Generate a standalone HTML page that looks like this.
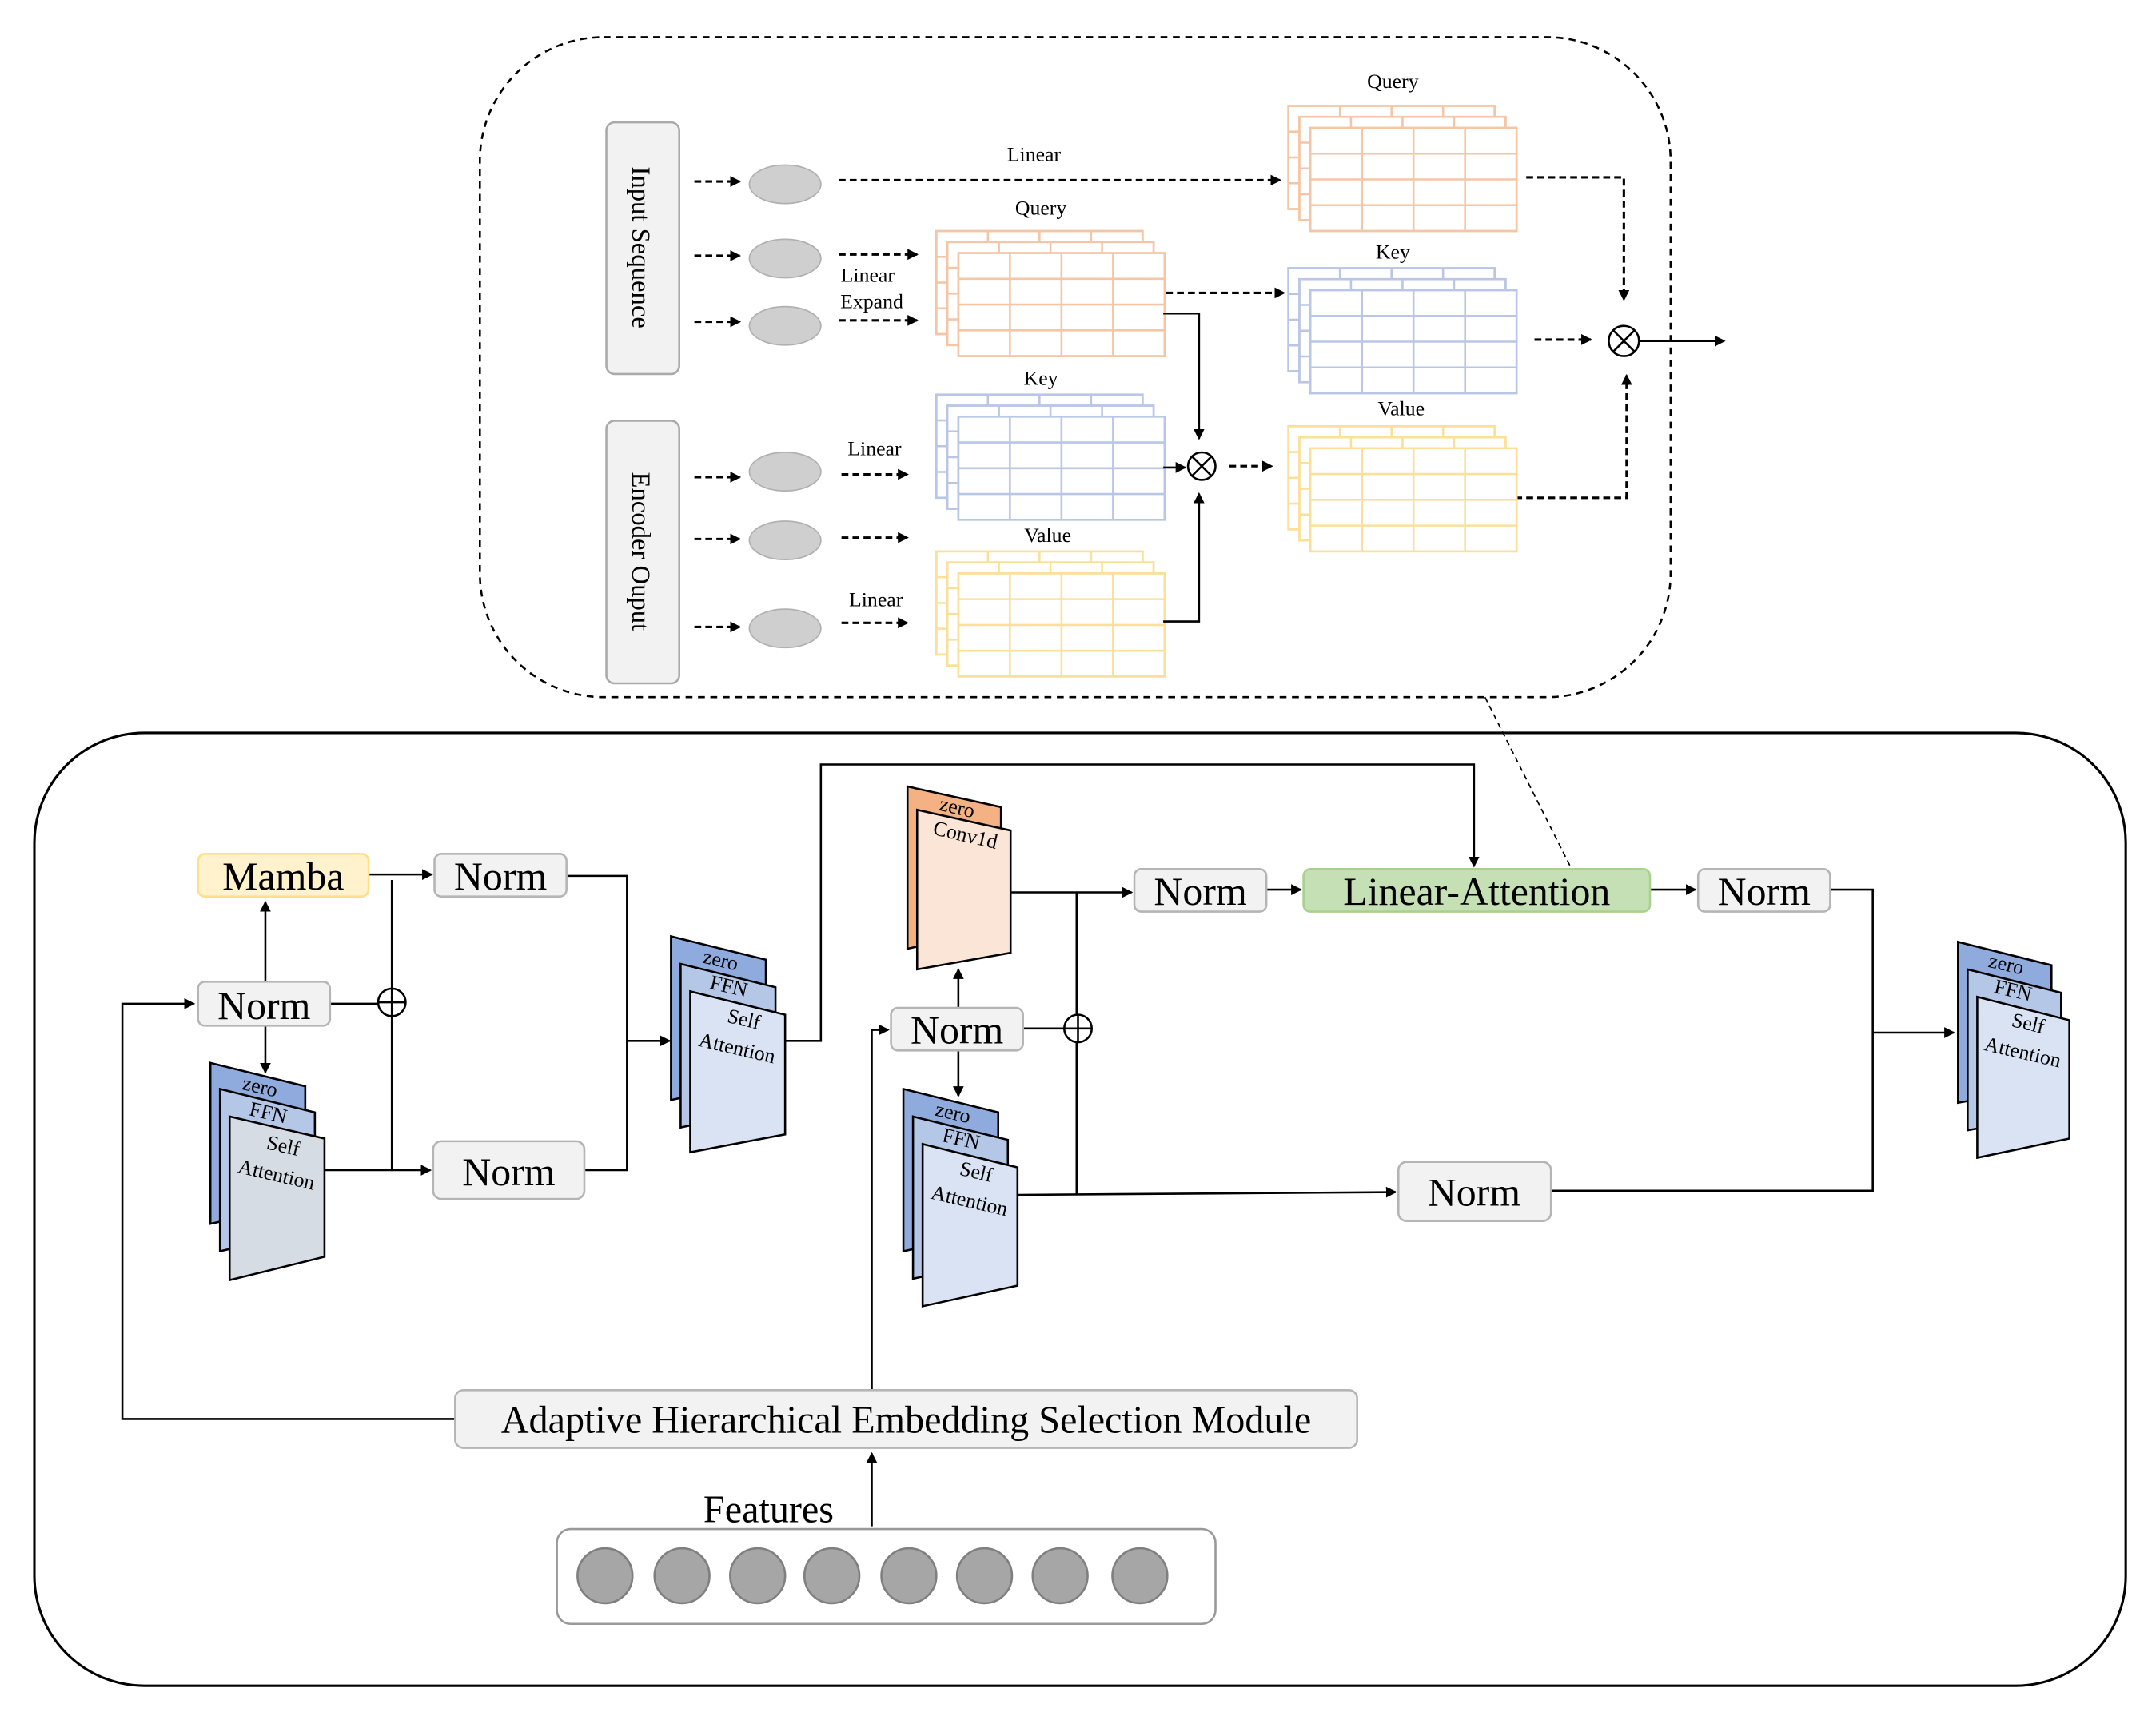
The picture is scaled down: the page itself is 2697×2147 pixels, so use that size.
<!DOCTYPE html>
<html><head><meta charset="utf-8"><style>html,body{margin:0;padding:0;background:#fff}svg{display:block}text{font-family:"Liberation Serif",serif;fill:#000}</style></head>
<body>
<svg width="2697" height="2147" viewBox="0 0 1568 1248" preserveAspectRatio="none" xmlns="http://www.w3.org/2000/svg">
<defs>
<marker id="a" markerWidth="8" markerHeight="8" refX="7" refY="4" orient="auto" markerUnits="userSpaceOnUse"><path d="M0,0 L8,4 L0,8z" fill="#000"/></marker>
<g id="L"><rect x="0" y="0" width="150" height="75" fill="#fff"/><path d="M37.5,0V75M75,0V75M112.5,0V75M0,18.75H150M0,37.5H150M0,56.25H150" fill="none"/><rect x="0" y="0" width="150" height="75" fill="none"/></g>
<g id="M" stroke-width="1.5"><use href="#L"/><use href="#L" x="8" y="8"/><use href="#L" x="16" y="16"/></g>
</defs>
<rect x="349" y="27" width="866" height="480" rx="90" fill="none" stroke="#000" stroke-width="1.5" stroke-dasharray="5,4"/>
<rect x="441" y="89" width="53" height="183" rx="6" fill="#f2f2f2" stroke="#aaa" stroke-width="1.5"/>
<text transform="translate(460,180) rotate(90)" font-size="19" text-anchor="middle">Input Sequence</text>
<rect x="441" y="306" width="53" height="191" rx="6" fill="#f2f2f2" stroke="#aaa" stroke-width="1.5"/>
<text transform="translate(460,401) rotate(90)" font-size="19" text-anchor="middle">Encoder Ouput</text>
<g fill="#cfcfcf" stroke="#b0b0b0"><ellipse cx="571" cy="134" rx="26" ry="14"/><ellipse cx="571" cy="188" rx="26" ry="14"/><ellipse cx="571" cy="237" rx="26" ry="14"/><ellipse cx="571" cy="343" rx="26" ry="14"/><ellipse cx="571" cy="393" rx="26" ry="14"/><ellipse cx="571" cy="457" rx="26" ry="14"/></g>
<g stroke="#000" stroke-width="1.8" stroke-dasharray="5,3" fill="none" marker-end="url(#a)">
<path d="M505,132H538"/><path d="M505,186H538"/><path d="M505,234H538"/><path d="M505,347H538"/><path d="M505,392H538"/><path d="M505,456H538"/>
<path d="M610,131H931"/><path d="M610,185H667"/><path d="M610,233H667"/><path d="M612,345H660"/><path d="M612,391H660"/><path d="M612,453H660"/>
<path d="M848,213H934"/><path d="M894,339H925"/><path d="M1110,129H1181V218"/><path d="M1116,247H1157"/><path d="M1102,362H1183V273"/>
</g>
<g font-size="15" text-anchor="middle"><text x="752" y="117">Linear</text><text x="631" y="205">Linear</text><text x="634" y="224">Expand</text><text x="636" y="331">Linear</text><text x="637" y="441">Linear</text>
<text x="757" y="156">Query</text><text x="757" y="280">Key</text><text x="762" y="394">Value</text><text x="1013" y="64">Query</text><text x="1013" y="188">Key</text><text x="1019" y="302">Value</text></g>
<use href="#M" x="937" y="77" stroke="#f5c6a5"/><use href="#M" x="937" y="195" stroke="#b9c6e6"/><use href="#M" x="937" y="310" stroke="#fbe09a"/>
<use href="#M" x="681" y="168" stroke="#f5c6a5"/><use href="#M" x="681" y="287" stroke="#b9c6e6"/><use href="#M" x="681" y="401" stroke="#fbe09a"/>
<g stroke="#000" stroke-width="1.5" fill="none">
<path d="M846,228H872V319" marker-end="url(#a)"/><path d="M846,340H862" marker-end="url(#a)"/><path d="M846,452H872V359" marker-end="url(#a)"/>
<circle cx="874" cy="339" r="10"/><path d="M867,332L881,346M881,332L867,346"/>
<circle cx="1181" cy="248" r="11"/><path d="M1173,240L1189,256M1189,240L1173,256"/>
<path d="M1192,248H1254" marker-end="url(#a)"/>
<path d="M1080,507L1143,632" stroke-dasharray="4,3" stroke-width="1"/>
</g>
<rect x="25" y="533" width="1521" height="693" rx="80" fill="none" stroke="#000" stroke-width="1.8"/>
<g stroke="#000" stroke-width="1.5" fill="none">
<path d="M268,636H314" marker-end="url(#a)"/><path d="M285,640V851"/><path d="M240,730H285"/>
<path d="M193,714V656" marker-end="url(#a)"/><path d="M193,746V780" marker-end="url(#a)"/>
<path d="M236,851H313" marker-end="url(#a)"/>
<path d="M412,637H456V851H425"/><path d="M456,757H487" marker-end="url(#a)"/>
<path d="M571,757H597V556H1072V630" marker-end="url(#a)"/>
<path d="M735,649H823" marker-end="url(#a)"/><path d="M783,649V869"/><path d="M744,748H784"/>
<path d="M697,733V705" marker-end="url(#a)"/><path d="M697,764V797" marker-end="url(#a)"/>
<path d="M740,869L1015,867" marker-end="url(#a)"/>
<path d="M921,647H946" marker-end="url(#a)"/><path d="M1200,647H1233" marker-end="url(#a)"/>
<path d="M1331,647H1362V866H1128"/><path d="M1362,751H1421" marker-end="url(#a)"/>
<path d="M634,1011V749H646" marker-end="url(#a)"/>
<path d="M331,1032H89V730H141" marker-end="url(#a)"/>
<path d="M634,1110V1057" marker-end="url(#a)"/>
<circle cx="285" cy="729" r="10" fill="#fff"/><path d="M275,729H295M285,719V739"/>
<circle cx="784" cy="748" r="10" fill="#fff"/><path d="M774,748H794M784,738V758"/>
</g>
<g stroke="#b5b5b5" stroke-width="1.5" fill="#f2f2f2">
<rect x="316" y="621" width="96" height="31" rx="5"/><rect x="144" y="714" width="96" height="32" rx="5"/><rect x="315" y="830" width="110" height="42" rx="6"/>
<rect x="825" y="632" width="96" height="31" rx="5"/><rect x="648" y="733" width="96" height="31" rx="5"/><rect x="1017" y="845" width="111" height="43" rx="6"/>
<rect x="1235" y="632" width="96" height="31" rx="5"/><rect x="331" y="1011" width="656" height="42" rx="6"/>
<rect x="405" y="1112" width="479" height="69" rx="10" fill="#fff" stroke="#999"/>
</g>
<rect x="144" y="621" width="124" height="31" rx="5" fill="#fff2cc" stroke="#ffe08a" stroke-width="1.5"/>
<rect x="948" y="632" width="252" height="31" rx="5" fill="#c5e0b4" stroke="#a9d18e" stroke-width="1.5"/>
<g font-size="29" text-anchor="middle"><text x="206" y="647">Mamba</text><text x="364" y="647">Norm</text><text x="192" y="741">Norm</text><text x="370" y="862">Norm</text>
<text x="873" y="658">Norm</text><text x="696" y="759">Norm</text><text x="1072" y="877">Norm</text><text x="1283" y="658">Norm</text><text x="1074" y="658">Linear-Attention</text>
<text x="659" y="1042" font-size="28">Adaptive Hierarchical Embedding Selection Module</text><text x="559" y="1107" font-size="28">Features</text></g>
<g fill="#a6a6a6" stroke="#7f7f7f" stroke-width="1.5"><circle cx="440" cy="1146" r="20"/><circle cx="496" cy="1146" r="20"/><circle cx="551" cy="1146" r="20"/><circle cx="605" cy="1146" r="20"/><circle cx="661" cy="1146" r="20"/><circle cx="716" cy="1146" r="20"/><circle cx="771" cy="1146" r="20"/><circle cx="829" cy="1146" r="20"/></g>
<g stroke="#000" stroke-width="1.5">
<polygon points="153,773 222,790 222,875 153,890" fill="#8faadc"/><polygon points="160,792 229,809 229,894 160,910" fill="#b4c7e7"/><polygon points="167,812 236,828 236,914 167,931" fill="#d6dce4"/>
<polygon points="488,681 557,698 557,785 488,800" fill="#8faadc"/><polygon points="495,701 564,718 564,805 495,820" fill="#b4c7e7"/><polygon points="502,721 571,738 571,825 502,838" fill="#dae3f3"/>
<polygon points="657,792 726,809 726,895 657,910" fill="#8faadc"/><polygon points="664,812 733,829 733,915 664,930" fill="#b4c7e7"/><polygon points="671,832 740,849 740,935 671,950" fill="#dae3f3"/>
<polygon points="1424,685 1492,702 1492,790 1424,802" fill="#8faadc"/><polygon points="1431,705 1499,722 1499,810 1431,822" fill="#b4c7e7"/><polygon points="1438,725 1505,742 1505,828 1438,842" fill="#dae3f3"/>
<polygon points="660,572 728,587 728,675 660,690" fill="#f4b183"/><polygon points="667,589 735,604 735,693 667,705" fill="#fbe5d6"/>
</g>
<g font-size="15" text-anchor="middle">
<text transform="translate(188,795) rotate(13)">zero</text><text transform="translate(194,814) rotate(13)">FFN</text><text transform="translate(205,838) rotate(13)">Self</text><text transform="translate(200,859) rotate(13)">Attention</text>
<text transform="translate(523,703) rotate(13)">zero</text><text transform="translate(529,722) rotate(13)">FFN</text><text transform="translate(540,746) rotate(13)">Self</text><text transform="translate(535,767) rotate(13)">Attention</text>
<text transform="translate(692,814) rotate(13)">zero</text><text transform="translate(698,833) rotate(13)">FFN</text><text transform="translate(709,857) rotate(13)">Self</text><text transform="translate(704,878) rotate(13)">Attention</text>
<text transform="translate(1458,706) rotate(13)">zero</text><text transform="translate(1463,725) rotate(13)">FFN</text><text transform="translate(1474,749) rotate(13)">Self</text><text transform="translate(1470,770) rotate(13)">Attention</text>
<text transform="translate(695,592) rotate(13)">zero</text><text transform="translate(701,612) rotate(13)">Conv1d</text>
</g>
</svg>
</body></html>
